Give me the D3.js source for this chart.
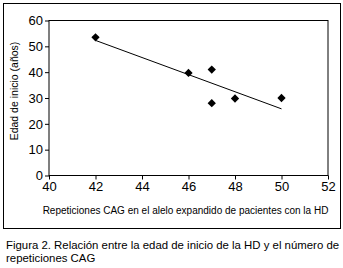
<!DOCTYPE html>
<html>
<head>
<meta charset="utf-8">
<script src="https://cdn.jsdelivr.net/npm/d3@7"></script>
<style>
  body { margin: 0; background: #fff; }
  svg text { font-family: "Liberation Sans", Arial, sans-serif; fill: #000; }
</style>
</head>
<body>
<svg id="chart" width="343" height="268"></svg>
<script>
// values
const cagRepeats = [42, 46, 47, 47, 48, 50];
const onsetAge = [53.5, 39.7, 41, 28, 29.8, 30];
const trendX = [42, 50];
const trendY = [52.3, 25.8];
const xTicks = [40, 42, 44, 46, 48, 50, 52];
const yTicks = [0, 10, 20, 30, 40, 50, 60];

const svg = d3.select('#chart');

const margin = { top: 20.5, right: 15, bottom: 92.5, left: 49 };
const width = 343 - margin.left - margin.right;
const height = 268 - margin.top - margin.bottom;

// outer frame
svg.append('rect')
  .attr('x', 3.5).attr('y', 3.5)
  .attr('width', 337).attr('height', 225)
  .attr('fill', 'none')
  .attr('stroke', '#000')
  .attr('stroke-width', 1);

const g = svg.append('g')
  .attr('transform', `translate(${margin.left},${margin.top})`);

const xScale = d3.scaleLinear().domain([40, 52]).range([0, width]);
const yScale = d3.scaleLinear().domain([0, 60]).range([height, 0]);

// plot frame
g.append('rect')
  .attr('x', 0).attr('y', 0)
  .attr('width', width).attr('height', height)
  .attr('fill', 'none')
  .attr('stroke', '#000');

// X-axis
const xAxis = g.append('g')
  .attr('transform', `translate(0,${height})`)
  .call(d3.axisBottom(xScale).tickValues(xTicks).tickSize(4).tickPadding(2));
xAxis.select('.domain').remove();
xAxis.selectAll('text').style('font-size', '13px');

// Y-axis
const yAxis = g.append('g')
  .call(d3.axisLeft(yScale).tickValues(yTicks).tickSize(4).tickPadding(2));
yAxis.select('.domain').remove();
yAxis.selectAll('text').style('font-size', '13px');

// axis labels
g.append('text')
  .attr('x', width / 2 - 3)
  .attr('y', height + 38)
  .style('text-anchor', 'middle')
  .style('font-size', '10px')
  .text('Repeticiones CAG en el alelo expandido de pacientes con la HD');

g.append('text')
  .attr('transform', 'rotate(-90)')
  .attr('x', -height / 2 + 7)
  .attr('y', -31)
  .style('text-anchor', 'middle')
  .style('font-size', '10.5px')
  .text('Edad de inicio (años)');

// trend line
g.append('line')
  .attr('x1', xScale(trendX[0])).attr('y1', yScale(trendY[0]))
  .attr('x2', xScale(trendX[1])).attr('y2', yScale(trendY[1]))
  .attr('stroke', '#000')
  .attr('stroke-width', 1);

// points
const pts = cagRepeats.map((x, i) => ({ x: x, y: onsetAge[i] }));
g.selectAll('path.pt')
  .data(pts)
  .enter()
  .append('path')
  .attr('class', 'pt')
  .attr('d', d3.symbol().type(d3.symbolDiamond2).size(44))
  .attr('transform', d => `translate(${xScale(d.x)},${yScale(d.y)})`)
  .attr('fill', '#000');

// caption
const caption = svg.append('text')
  .attr('x', 6)
  .style('font-size', '11.4px');
caption.append('tspan').attr('x', 6).attr('y', 249)
  .text('Figura 2. Relación entre la edad de inicio de la HD y el número de');
caption.append('tspan').attr('x', 6).attr('y', 262)
  .text('repeticiones CAG');
</script>
</body>
</html>
